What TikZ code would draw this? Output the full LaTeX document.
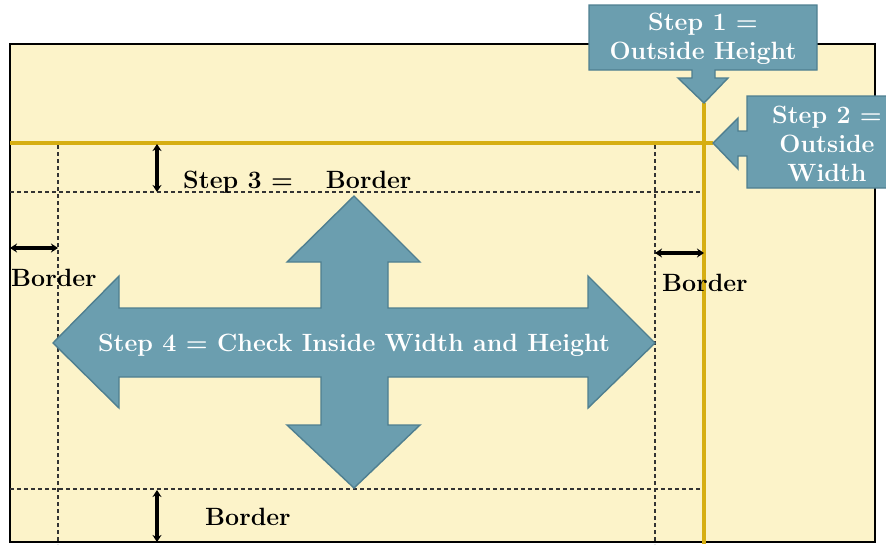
\documentclass[tikz,border=0pt]{standalone}
\usetikzlibrary{arrows.meta}
\definecolor{cream}{HTML}{FCF3C9}
\definecolor{teal}{HTML}{6B9EAF}
\definecolor{tealdark}{HTML}{4F7F90}
\definecolor{gold}{HTML}{D6AE12}
\tikzset{
  callout/.style={fill=teal, draw=tealdark, line width=1.4pt, line join=miter},
  wtext/.style={text=white, font=\bfseries\fontsize{25}{29}\selectfont, align=center, inner sep=0pt},
  btext/.style={text=black, font=\bfseries\fontsize{25}{29}\selectfont, anchor=base west, inner sep=0pt},
  guide/.style={draw=black!80, line width=1.1pt, dash pattern=on 4pt off 3pt},
  goldline/.style={draw=gold, line width=4pt},
  dim/.style={draw=black, line width=3.2pt, {Stealth[length=7pt,width=9pt]}-{Stealth[length=7pt,width=9pt]}}
}
\begin{document}
\begin{tikzpicture}[x=1pt,y=-1pt]
\useasboundingbox (0,0) rectangle (886,544);
% board
\draw[fill=cream, line width=2.4pt] (10,44) rectangle (875,542);
% guides
\coordinate (gtl) at (58,145); \coordinate (gbl) at (58,544);
\coordinate (gtr) at (655,145); \coordinate (gbr) at (655,544);
\coordinate (hl1) at (10,192); \coordinate (hr1) at (705,192);
\coordinate (hl2) at (10,489); \coordinate (hr2) at (705,489);
\draw[guide] (gtl) -- (gbl);
\draw[guide] (gtr) -- (gbr);
\draw[guide] (hl1) -- (hr1);
\draw[guide] (hl2) -- (hr2);
% gold lines
\coordinate (gh1) at (10,143); \coordinate (gh2) at (713,143);
\coordinate (gv1) at (704,103); \coordinate (gv2) at (704,544);
\draw[goldline] (gh1) -- (gh2);
\draw[goldline] (gv1) -- (gv2);
% dimension arrows
\coordinate (d1a) at (157,144); \coordinate (d1b) at (157,192);
\draw[dim] (d1a) -- (d1b);
\coordinate (d2a) at (10,248); \coordinate (d2b) at (58,248);
\draw[dim] (d2a) -- (d2b);
\coordinate (d3a) at (655,253); \coordinate (d3b) at (704,253);
\draw[dim] (d3a) -- (d3b);
\coordinate (d4a) at (157,490); \coordinate (d4b) at (157,542);
\draw[dim] (d4a) -- (d4b);
\node[btext] (t3) at (183,188) {Step 3 =\hspace{33pt}Border};
\node[btext] (t3l) at (11,286) {Border};
\node[btext] (t3r) at (662,291) {Border};
\node[btext] (t3b) at (205,525) {Border};
% four-way arrow
\draw[callout] (354,196) -- (420,262) -- (388,262) -- (388,308) -- (588,308) -- (588,276) -- (655,343) -- (588,408) -- (588,377) -- (388,377) -- (388,425) -- (420,425) -- (354,488) -- (287,425) -- (321,425) -- (321,377) -- (119,377) -- (119,408) -- (53,343) -- (119,276) -- (119,308) -- (321,308) -- (321,262) -- (287,262) -- cycle;
\node[wtext] (s4) at (354,345) {Step 4 = Check Inside Width and Height};
% step 1 callout
\draw[callout] (589,5) -- (817,5) -- (817,70) -- (715,70) -- (715,78) -- (728,78) -- (704,103) -- (678,78) -- (692,78) -- (692,70) -- (589,70) -- cycle;
\node[wtext] (s1) at (703,39) {Step 1 =\\Outside Height};
% step 2 callout
\draw[callout] (747,96) -- (888,96) -- (888,188) -- (747,188) -- (747,156) -- (738,156) -- (738,169) -- (713,143) -- (738,118) -- (738,131) -- (747,131) -- cycle;
\node[wtext] (s2) at (827,144) {Step 2 =\\Outside\\Width};
\end{tikzpicture}
\end{document}
